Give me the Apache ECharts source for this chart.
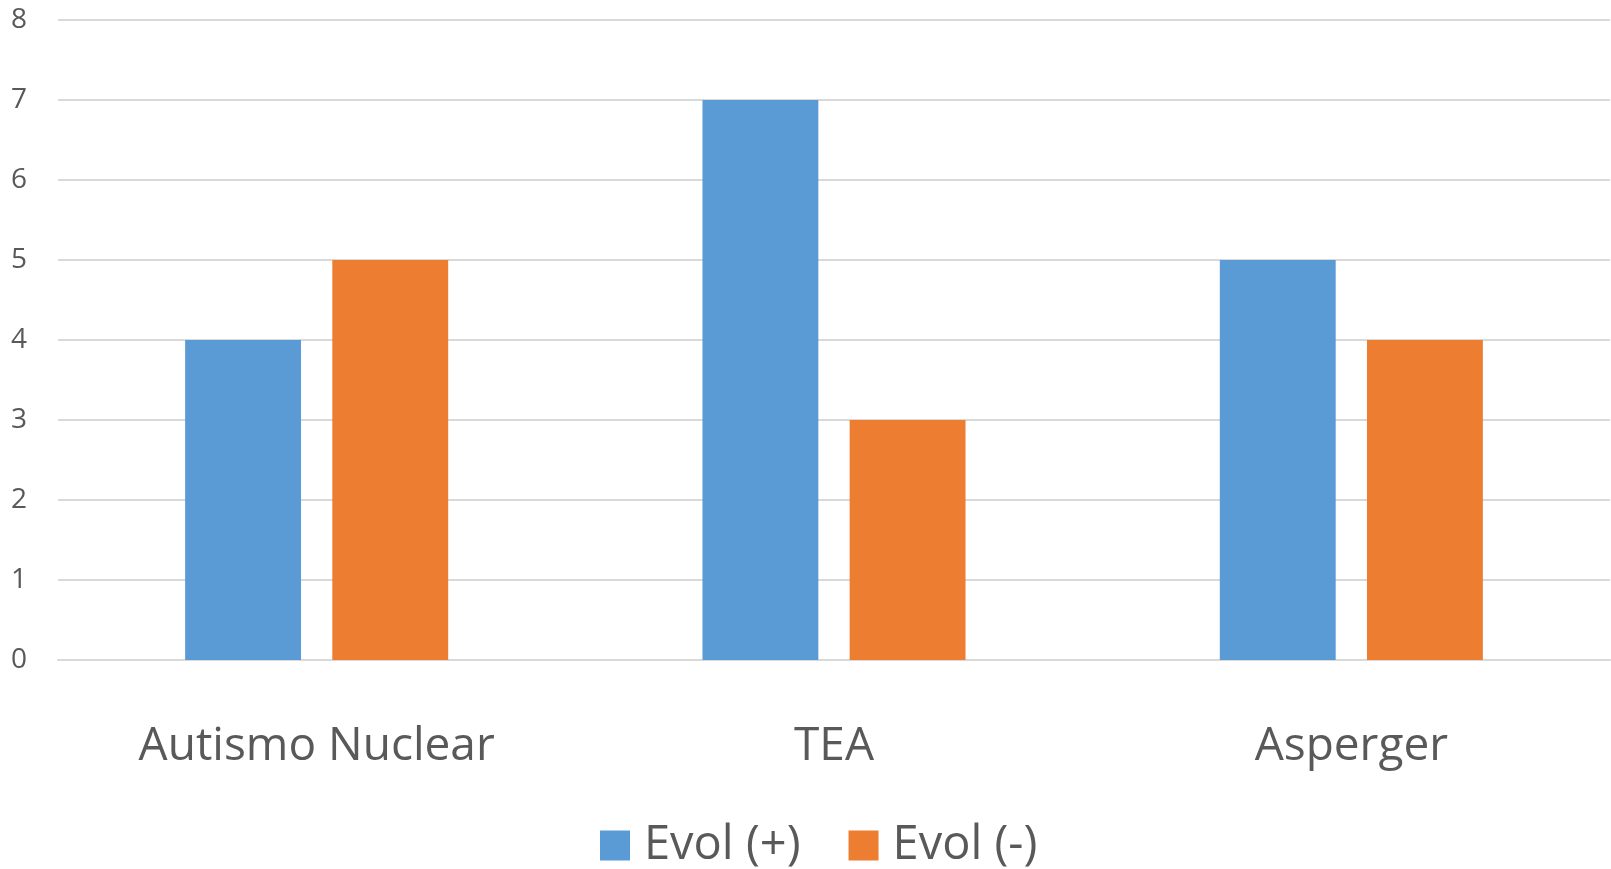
<!DOCTYPE html>
<html>
<head>
<meta charset="utf-8">
<script src="https://cdn.jsdelivr.net/npm/echarts@6/dist/echarts.min.js"></script>
<style>
  html, body { margin: 0; padding: 0; background: #fff; }
  #chart { width: 1611px; height: 869px; }
</style>
</head>
<body>
<div id="chart"></div>
<script>
// Diagnostic groups and counts per evolution outcome
const categories = ['Autismo Nuclear', 'TEA', 'Asperger'];
const evolPositive = [4, 7, 5];
const evolNegative = [5, 3, 4];
const seriesNames = ['Evol (+)', 'Evol (-)'];
const yTicks = { min: 0, max: 8, interval: 1 };

const textColor = '#595959';
const fontFamily = '"Open Sans", "Noto Sans", sans-serif';

const chart = echarts.init(document.getElementById('chart'));
chart.setOption({
  animation: false,
  backgroundColor: '#ffffff',
  textStyle: { fontFamily: fontFamily },
  grid: { left: 58, right: 1, top: 20, bottom: 209, containLabel: false },
  legend: {
    data: seriesNames,
    top: 817,
    left: 595,
    itemWidth: 30,
    itemHeight: 30,
    itemGap: 48,
    icon: 'rect',
    textStyle: { fontSize: 47, color: textColor, fontFamily: fontFamily, padding: [0, 0, 0, 9] }
  },
  xAxis: {
    type: 'category',
    data: categories,
    axisLine: { show: true, lineStyle: { color: '#D9D9D9', width: 2 } },
    axisTick: { show: false },
    axisLabel: { fontSize: 46, color: textColor, margin: 64, fontFamily: fontFamily }
  },
  yAxis: {
    type: 'value',
    min: yTicks.min,
    max: yTicks.max,
    interval: yTicks.interval,
    axisLine: { show: false },
    axisTick: { show: false },
    splitLine: { lineStyle: { color: '#D9D9D9', width: 2 } },
    axisLabel: { fontSize: 28, color: textColor, margin: 31, fontFamily: fontFamily }
  },
  series: [
    {
      name: seriesNames[0],
      type: 'bar',
      data: evolPositive,
      barWidth: '22.4%',
      barGap: '27%',
      itemStyle: { color: '#5B9BD5' }
    },
    {
      name: seriesNames[1],
      type: 'bar',
      data: evolNegative,
      barWidth: '22.4%',
      barGap: '27%',
      itemStyle: { color: '#ED7D31' }
    }
  ]
});
</script>
</body>
</html>
